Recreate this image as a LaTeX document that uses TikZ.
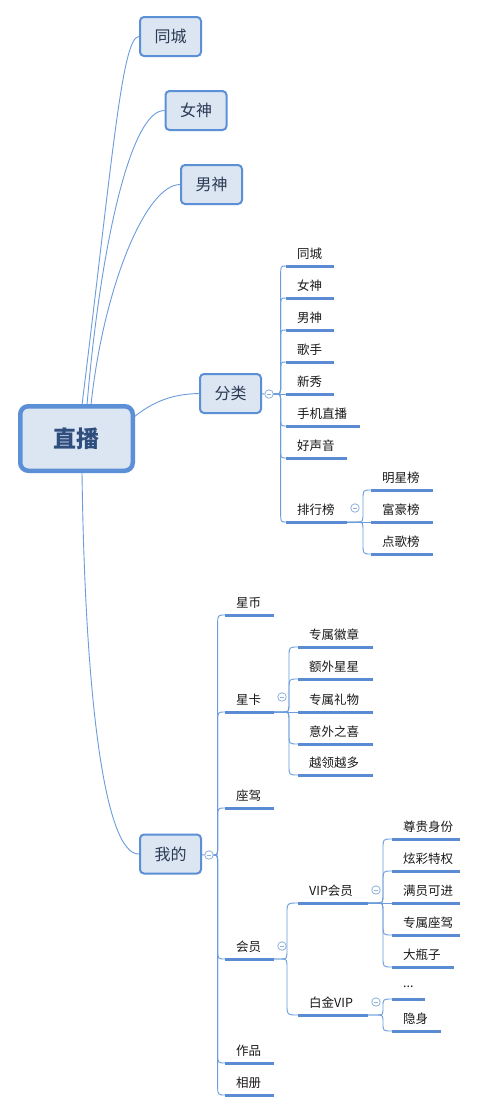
\documentclass[tikz,border=0pt]{standalone}
\usepackage{fontspec}
\setmainfont{Noto Sans CJK SC}
\usetikzlibrary{calc}
\definecolor{boxfill}{HTML}{DCE6F2}
\definecolor{boxline}{HTML}{5B8FD6}
\definecolor{connc}{HTML}{6B9CDC}
\definecolor{ulc}{HTML}{5B8BD2}
\definecolor{boxtext}{HTML}{2B3A55}
\definecolor{roottext}{HTML}{2F4E7E}
\definecolor{togc}{HTML}{8DB0DE}
\tikzset{
 conn/.style={draw=connc, line width=0.9pt},
 uline/.style={draw=ulc, line width=3pt},
 l1box/.style={draw=boxline, fill=boxfill, line width=2pt, rounded corners=4pt,
   minimum width=61pt, minimum height=39pt, font=\fontsize{16}{18}\selectfont,
   text=boxtext, inner sep=0pt},
 rootbox/.style={draw=boxline, fill=boxfill, line width=4.5pt, rounded corners=8pt,
   minimum width=112.5pt, minimum height=64.5pt, font=\fontsize{23}{26}\selectfont\bfseries,
   text=roottext, inner sep=0pt},
 leaftxt/.style={anchor=west, inner sep=0pt, font=\fontsize{12.5}{14}\selectfont, text=black!90},
 tog/.style={circle, draw=togc, fill=white, line width=0.8pt, minimum size=8.5pt, inner sep=0pt,
   path picture={\draw[togc, line width=0.8pt]
     ([xshift=-2.2pt]path picture bounding box.center) -- ([xshift=2.2pt]path picture bounding box.center);}},
}
% leaf: name, x, y (underline), width, text
\newcommand\mkleaf[5]{%
 \coordinate (#1) at (#2,#3);
 \node[leaftxt] (#1-t) at (#2+11,#3-12.5) {#5};
 \draw[uline] (#1) -- ++(#4,0) coordinate (#1-e);
}
% fan connector: from, to, spine offset, start radius
\newcommand\fan[4]{%
 \draw[conn] let \p1=(#1), \p2=(#2), \n1={ifthenelse(\y2>\y1,1,-1)}, \n2={\x1+#3pt},
   \n4={min(10,abs(\y2-\y1)/2)} in
   (\p1) -- ({\n2*1pt-#4pt},\y1) .. controls ({\n2*1pt},\y1) .. ({\n2*1pt},{\y1+(\n1*\n4)*1pt})
   -- ({\n2*1pt},{\y2-(\n1*\n4)*1pt}) .. controls ({\n2*1pt},\y2) .. (\p2);
}
\begin{document}
\begin{tikzpicture}[x=1pt,y=-1pt]
\useasboundingbox (0,0) rectangle (485,1112);
\fill[white] (0,0) rectangle (485,1112);

% level-1 boxes
\node[l1box] (tc) at (170.5,36.5) {同城};
\node[l1box] (ns) at (196,110.5) {女神};
\node[l1box] (nan) at (211.5,184.5) {男神};
\node[l1box] (fl) at (230.5,393.5) {分类};
\node[l1box] (wd) at (170.5,854) {我的};

% root connector anchors
\coordinate (r1) at (82,405);
\coordinate (r2) at (87,405);
\coordinate (r3) at (91,405);
\coordinate (r4) at (134,417);
\coordinate (r5) at (82,472);
\draw[conn] (r1) .. controls (113,154) and (122,37) .. (tc.west);
\draw[conn] (r2) .. controls (100,250) and (130,110) .. (ns.west);
\draw[conn] (r3) .. controls (103,290) and (145,185) .. (nan.west);
\draw[conn] (r4) .. controls (155,400) and (175,394) .. (fl.west);
\draw[conn] (r5) .. controls (85,700) and (105,855) .. (wd.west);

\node[rootbox] (root) at (76.5,438.5) {直播};

% toggles on boxes
\node[tog] (fl-g) at (269,394) {};
\node[tog] (wd-g) at (209,855) {};
\draw[conn] (fl) -- (fl-g);
\draw[conn] (wd) -- (wd-g);

% 分类 children
\mkleaf{a1}{286}{266}{48}{同城}
\mkleaf{a2}{286}{298}{48}{女神}
\mkleaf{a3}{286}{330}{48}{男神}
\mkleaf{a4}{286}{362}{48}{歌手}
\mkleaf{a5}{286}{394}{48}{新秀}
\mkleaf{a6}{286}{426}{74}{手机直播}
\mkleaf{a7}{286}{458}{61}{好声音}
\mkleaf{a8}{286}{522}{61}{排行榜}
\foreach \c in {a1,a2,a3,a4,a6,a7,a8} {\fan{fl-g.east}{\c}{7}{5}}
\draw[conn] (fl-g.east) -- (a5);

% 排行榜 children
\node[tog] (a8-g) at (355,508) {};
\mkleaf{b1}{371}{490}{62}{明星榜}
\mkleaf{b2}{371}{522}{62}{富豪榜}
\mkleaf{b3}{371}{554}{62}{点歌榜}
\fan{a8-e}{b1}{16}{6}
\fan{a8-e}{b3}{16}{6}
\draw[conn] (a8-e) -- (b2);

% 我的 children
\mkleaf{c1}{225}{615}{49}{星币}
\mkleaf{c2}{225}{712}{49}{星卡}
\mkleaf{c3}{225}{808}{49}{座驾}
\mkleaf{c4}{225}{959}{49}{会员}
\mkleaf{c5}{225}{1063}{49}{作品}
\mkleaf{c6}{225}{1095}{49}{相册}
\foreach \c in {c1,c2,c3,c4,c5,c6} {\fan{wd-g.east}{\c}{4}{4}}

% 星卡 children
\node[tog] (c2-g) at (282,697) {};
\mkleaf{d1}{298}{647}{75}{专属徽章}
\mkleaf{d2}{298}{679}{75}{额外星星}
\mkleaf{d3}{298}{712}{75}{专属礼物}
\mkleaf{d4}{298}{744}{75}{意外之喜}
\mkleaf{d5}{298}{775}{75}{越领越多}
\foreach \c in {d1,d2,d4,d5} {\fan{c2-e}{\c}{15}{6}}
\draw[conn] (c2-e) -- (d3);

% 会员 children
\node[tog] (c4-g) at (282,946) {};
\mkleaf{e1}{298}{903}{70}{VIP会员}
\mkleaf{e2}{298}{1015}{70}{白金VIP}
\fan{c4-e}{e1}{13}{6}
\fan{c4-e}{e2}{13}{6}

% VIP会员 children
\node[tog] (e1-g) at (376,890) {};
\mkleaf{f1}{392}{839}{68}{尊贵身份}
\mkleaf{f2}{392}{871}{68}{炫彩特权}
\mkleaf{f3}{392}{903}{68}{满员可进}
\mkleaf{f4}{392}{935}{68}{专属座驾}
\mkleaf{f5}{392}{967}{62}{大瓶子}
\foreach \c in {f1,f2,f4,f5} {\fan{e1-e}{\c}{15}{6}}
\draw[conn] (e1-e) -- (f3);

% 白金VIP children
\node[tog] (e2-g) at (376,1002) {};
\mkleaf{g1}{392}{999}{33}{...}
\mkleaf{g2}{392}{1031}{49}{隐身}
\fan{e2-e}{g1}{15}{6}
\fan{e2-e}{g2}{15}{6}
\end{tikzpicture}
\end{document}
